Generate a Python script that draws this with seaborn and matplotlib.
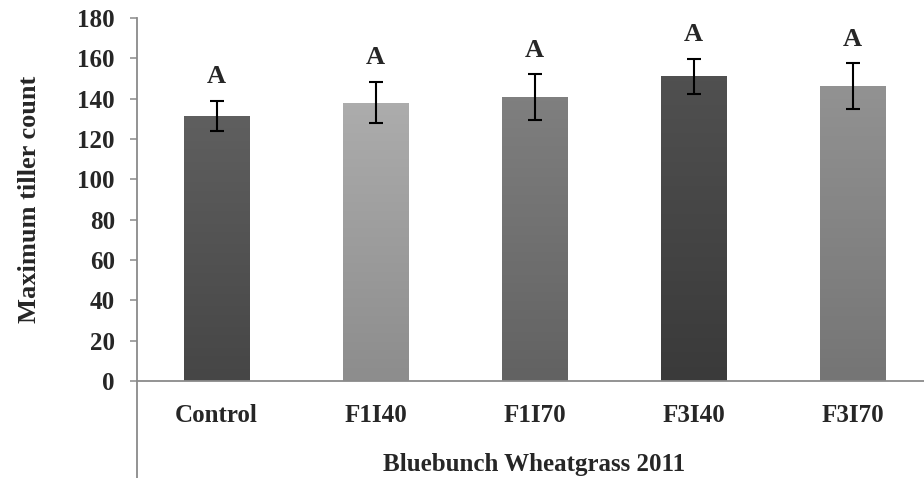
import numpy as np
import matplotlib
matplotlib.use("Agg")
import matplotlib.pyplot as plt
import matplotlib.colors as mcolors
import seaborn as sns

# data
treatments = ["Control", "F1I40", "F1I70", "F3I40", "F3I70"]
tiller_mean = [131.4, 138.0, 140.6, 151.2, 146.3]
tiller_err = [7.6, 10.3, 11.4, 8.7, 11.2]
letters = ["A", "A", "A", "A", "A"]
bar_top = ["#5f5f5f", "#acacac", "#7f7f7f", "#505050", "#929292"]
bar_bottom = ["#464646", "#8d8d8d", "#626262", "#3a3a3a", "#757575"]
y_ticks = [0, 20, 40, 60, 80, 100, 120, 140, 160, 180]

sns.set_style("white")
plt.rcParams["font.family"] = ["Liberation Serif", "DejaVu Serif"]
plt.rcParams["font.weight"] = "bold"

axis_gray = "#8a8a8a"

fig = plt.figure(figsize=(9.24, 4.78), dpi=100)
W, H = 924, 478
# axes spans 5 categories of ~159 px, running a bit past the right edge
ax = fig.add_axes([137 / W, (H - 381) / H, 795 / W, 363 / H])

sns.barplot(x=treatments, y=tiller_mean, hue=treatments, palette=bar_top,
            legend=False, width=0.41, ax=ax, zorder=2)

# soft vertical gradient inside each bar
for patch, c_top, c_bot in zip(ax.patches, bar_top, bar_bottom):
    x0, y0 = patch.get_x(), patch.get_y()
    w, h = patch.get_width(), patch.get_height()
    cmap = mcolors.LinearSegmentedColormap.from_list("g", [c_bot, c_top])
    grad = np.linspace(0, 1, 64).reshape(-1, 1)
    im = ax.imshow(grad, cmap=cmap, aspect="auto", origin="lower",
                   extent=(x0, x0 + w, y0, y0 + h), zorder=2.1)
    im.set_clip_path(patch)
    patch.set_edgecolor("none")

ax.errorbar(range(len(treatments)), tiller_mean, yerr=tiller_err, fmt="none",
            ecolor="black", elinewidth=1.5, capsize=4.8, capthick=1.5, zorder=3)

for i, (m, e, s) in enumerate(zip(tiller_mean, tiller_err, letters)):
    ax.annotate(s, (i, m + e), xytext=(0, 9), textcoords="offset points",
                ha="center", va="bottom", fontsize=19, fontweight="bold")

ax.set_ylim(0, 180)
ax.set_xlim(-0.5, 4.5)
ax.set_yticks(y_ticks)
ax.set_aspect("auto")

ax.set_ylabel("Maximum tiller count", fontsize=19, fontweight="bold", labelpad=26)
ax.set_xlabel("Bluebunch Wheatgrass 2011", fontsize=18, fontweight="bold", labelpad=19)

ax.tick_params(axis="y", which="both", left=True, length=5, width=1.1,
               color=axis_gray, labelsize=18, pad=11)
ax.tick_params(axis="x", bottom=False, labelsize=18, pad=13)
for lab in ax.get_xticklabels() + ax.get_yticklabels():
    lab.set_fontweight("bold")

sns.despine(ax=ax, top=True, right=True)
for side in ["left", "bottom"]:
    ax.spines[side].set_color(axis_gray)
    ax.spines[side].set_linewidth(1.3)

# group separator line under the category axis
ax.plot([0, 0], [0, -97 / 363], transform=ax.transAxes, color=axis_gray,
        lw=1.3, clip_on=False)

fig.savefig("out.png", dpi=100)
